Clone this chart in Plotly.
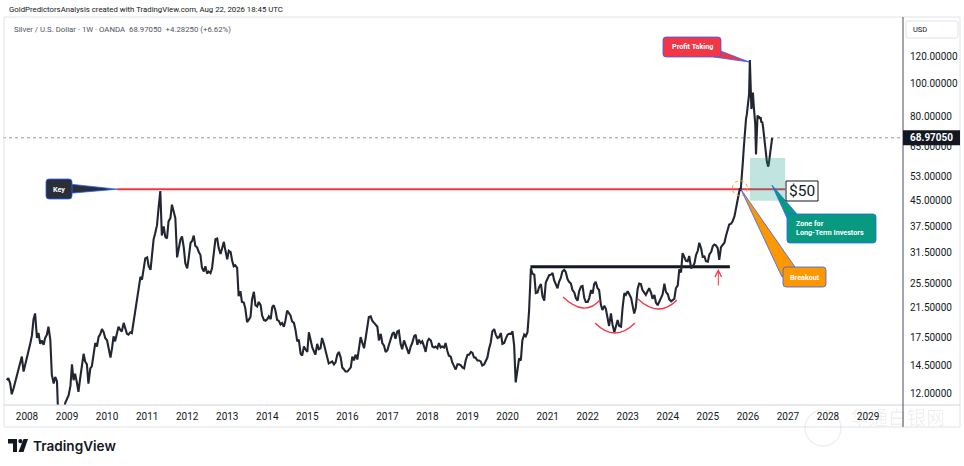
import numpy as np
import pandas as pd
import plotly.graph_objects as go

# ---------------- data (semi-monthly closes: 1st and 15th of each month) ----------------
silver_2007 = [13.1, 13.3, 12.8, 11.9, 12.4, 12.9, 13.6, 13.9, 14.8, 15.4, 13.9, 14.5]
silver_2008 = [15.2, 16.0, 16.9, 17.8, 19.9, 20.7, 17.5, 18.1, 16.8, 17.2, 16.7, 17.5,
               17.9, 18.9, 17.3, 13.6, 12.8, 13.4, 13.0, 9.7, 9.9, 9.4, 9.9, 11.2]
silver_2009 = [11.5, 11.8, 12.6, 14.6, 13.1, 13.7, 12.9, 12.1, 13.3, 14.5, 15.7, 14.9,
               14.6, 12.8, 14.2, 14.4, 15.8, 16.9, 16.5, 17.6, 18.0, 18.6, 18.2, 17.5]
silver_2010 = [17.2, 16.4, 15.3, 16.3, 17.7, 17.1, 17.9, 18.9, 18.5, 18.3, 19.4, 18.7,
               18.0, 17.9, 18.2, 18.1, 19.6, 20.9, 22.3, 24.2, 26.6, 26.1, 28.3, 30.2]
silver_2011 = [30.4, 28.6, 27.9, 30.5, 34.4, 35.8, 37.9, 42.6, 47.9, 35.3, 37.6, 35.0,
               34.6, 38.9, 39.8, 43.6, 41.5, 39.8, 30.4, 32.0, 34.4, 35.1, 32.5, 29.2]
silver_2012 = [28.2, 30.3, 33.6, 34.0, 35.3, 32.9, 32.5, 31.6, 30.9, 28.3, 27.6, 28.6,
               27.2, 27.6, 27.3, 28.2, 31.6, 34.4, 34.6, 32.4, 31.1, 32.6, 33.8, 31.9]
silver_2013 = [30.0, 31.8, 31.5, 29.7, 28.6, 28.8, 28.3, 23.3, 24.1, 22.4, 22.3, 21.4,
               19.5, 19.8, 20.2, 22.8, 24.0, 21.9, 21.7, 22.4, 21.9, 20.4, 19.8, 19.7]
silver_2014 = [19.9, 20.3, 19.9, 21.6, 21.9, 21.2, 19.8, 19.7, 19.2, 19.4, 18.9, 19.7,
               21.1, 20.8, 20.4, 19.6, 19.4, 18.5, 17.1, 17.3, 15.7, 15.5, 16.5, 16.2]
silver_2015 = [15.9, 18.2, 17.1, 16.4, 16.0, 15.6, 16.8, 16.2, 16.3, 17.5, 16.8, 16.1,
               15.6, 14.7, 14.8, 14.9, 14.6, 14.8, 15.6, 15.9, 15.3, 14.3, 14.1, 13.9]
silver_2016 = [13.9, 14.1, 14.3, 15.4, 15.0, 15.6, 15.1, 16.2, 17.6, 17.0, 16.3, 17.4,
               19.0, 20.2, 20.3, 19.7, 19.4, 19.1, 18.9, 17.2, 18.0, 16.9, 16.6, 15.9]
silver_2017 = [16.1, 16.7, 17.3, 18.0, 18.2, 17.4, 18.3, 18.4, 16.8, 16.2, 17.2, 16.7,
               16.1, 15.7, 16.5, 16.9, 17.7, 17.9, 16.7, 17.3, 16.9, 17.1, 16.5, 15.9]
silver_2018 = [17.1, 17.4, 17.2, 16.5, 16.4, 16.5, 16.3, 16.9, 16.4, 16.5, 16.4, 16.9,
               16.0, 15.5, 15.4, 14.8, 14.4, 14.1, 14.6, 14.6, 14.5, 14.3, 14.2, 15.0]
silver_2019 = [15.6, 15.6, 15.9, 15.8, 15.3, 15.3, 15.0, 15.0, 14.9, 14.5, 14.6, 15.0,
               15.3, 16.2, 17.0, 18.3, 18.6, 17.9, 17.5, 17.6, 18.1, 16.8, 16.9, 17.4]
silver_2020 = [17.9, 18.0, 18.0, 18.3, 16.6, 12.9, 14.4, 15.2, 15.0, 17.2, 17.9, 17.7,
               18.2, 21.0, 28.2, 27.2, 27.0, 23.8, 23.9, 24.8, 25.3, 23.3, 22.6, 25.6]
silver_2021 = [26.3, 26.9, 27.0, 27.3, 26.0, 25.4, 24.6, 25.7, 26.4, 27.6, 27.9, 27.5,
               26.2, 25.7, 25.4, 24.3, 23.9, 23.0, 22.6, 24.1, 24.9, 25.0, 23.0, 22.4]
silver_2022 = [22.4, 23.0, 24.3, 23.7, 25.3, 25.7, 24.6, 24.3, 22.0, 21.2, 21.8, 21.4,
               20.0, 19.0, 20.7, 19.2, 18.2, 19.1, 19.8, 19.0, 18.9, 21.5, 23.8, 23.5]
silver_2023 = [24.1, 23.6, 23.0, 21.8, 20.7, 21.5, 24.5, 25.4, 25.3, 24.3, 23.8, 23.5,
               24.1, 24.6, 23.9, 22.9, 23.5, 22.3, 21.9, 22.5, 23.0, 23.6, 25.4, 24.0]
silver_2024 = [23.6, 22.8, 22.5, 22.7, 22.9, 24.6, 25.1, 28.0, 27.4, 31.3, 30.4, 29.7,
               29.6, 30.7, 28.2, 28.5, 29.2, 30.9, 31.8, 33.6, 32.3, 30.5, 30.6, 29.6]
silver_2025 = [29.5, 31.0, 31.6, 32.8, 33.2, 33.0, 32.4, 29.9, 32.6, 33.0, 33.6, 35.2,
               36.6, 38.1, 38.3, 38.9, 40.3, 42.6]
# weekly closes from 2025-09-29
silver_weekly_2025_26 = [45.8, 47.2, 48.0, 48.8, 47.9, 50.5, 53.8, 58.9, 64.0, 69.5,
                         74.0, 78.5, 80.8, 86.0, 90.5, 93.0, 117.5, 99.0, 84.0, 88.0,
                         94.0, 86.0, 82.0, 76.0, 61.5, 77.5, 80.5, 79.0, 80.0, 78.5,
                         79.5, 76.5, 77.0, 75.0, 71.0, 68.0, 63.5, 61.0, 59.0, 57.5,
                         56.6, 58.5, 60.5, 63.5, 66.5, 68.9705]

price_ticks = [120, 100, 80, 65, 53, 45, 37.5, 31.5, 25.5, 21.5, 17.5, 14.5, 12]
year_ticks = list(range(2008, 2030))

key_level = 48.5
key_start, key_end = 2010.25, 2026.93
neck_level = 28.5
neck_start, neck_end = 2020.57, 2025.55
zone_low, zone_high = 44.8, 60.1
zone_start, zone_end = 2026.05, 2026.93
breakout_t, breakout_p = 2025.80, 48.8

# ---------------- series assembly ----------------
semi_monthly = (silver_2007 + silver_2008 + silver_2009 + silver_2010 + silver_2011 +
                silver_2012 + silver_2013 + silver_2014 + silver_2015 + silver_2016 +
                silver_2017 + silver_2018 + silver_2019 + silver_2020 + silver_2021 +
                silver_2022 + silver_2023 + silver_2024 + silver_2025)
sm_dates = pd.date_range("2007-07-01", periods=len(semi_monthly), freq="SMS")
wk_dates = pd.date_range("2025-09-29", periods=len(silver_weekly_2025_26), freq="7D")


def to_dec_year(idx):
    days = np.where(idx.is_leap_year, 366.0, 365.0)
    return idx.year.values + (idx.dayofyear.values - 1) / days


xs = np.concatenate([to_dec_year(sm_dates), to_dec_year(wk_dates)])
ys = np.array(semi_monthly + silver_weekly_2025_26)
last_price = silver_weekly_2025_26[-1]

# ---------------- geometry helpers ----------------
FW, FH = 964, 466
ML, MR, MT, MB = 3, 61, 17, 61
PW = FW - ML - MR
PH = FH - MT - MB
X_RANGE = [2007.401, 2029.873]
Y_RANGE = [1.0435, 2.1982]


def px(x):
    return (x - ML) / PW


def py(y):
    return 1 - (y - MT) / PH


def data_y_px(v):
    return MT + (Y_RANGE[1] - np.log10(v)) / (Y_RANGE[1] - Y_RANGE[0]) * PH


def data_x_px(t):
    return ML + (t - X_RANGE[0]) / (X_RANGE[1] - X_RANGE[0]) * PW


def P(x, y):
    return f"{px(x):.5f},{py(y):.5f}"


def rrect(x0, y0, x1, y1, r=3):
    return (f"M{P(x0 + r, y0)} L{P(x1 - r, y0)} Q{P(x1, y0)} {P(x1, y0 + r)} "
            f"L{P(x1, y1 - r)} Q{P(x1, y1)} {P(x1 - r, y1)} L{P(x0 + r, y1)} "
            f"Q{P(x0, y1)} {P(x0, y1 - r)} L{P(x0, y0 + r)} Q{P(x0, y0)} {P(x0 + r, y0)} Z")


def poly(pts):
    return "M" + " L".join(P(a, b) for a, b in pts) + " Z"


def pshape(path, fill=None, color=None, width=1, dash=None):
    line = dict(color=color or "rgba(0,0,0,0)", width=width if color else 0)
    if dash:
        line["dash"] = dash
    return dict(type="path", xref="paper", yref="paper", path=path,
                fillcolor=fill or "rgba(0,0,0,0)", line=line, layer="above")


def label(x, y, text, size, color, xanchor="center", **font_kw):
    return dict(x=px(x), y=py(y), xref="paper", yref="paper", text=text,
                showarrow=False, xanchor=xanchor, yanchor="middle", align="left",
                font=dict(size=size, color=color, **font_kw))


BLUE = "#2962ff"
DARK = "#131722"
shapes = []
annotations = []

# chart frame and separators
shapes.append(pshape(f"M{P(4, 17)} L{P(960, 17)} L{P(960, 427)} L{P(4, 427)} Z",
                     color="#e0e3eb", width=1))
shapes.append(pshape(f"M{P(4, 405)} L{P(960, 405)}", color="#d1d4dc", width=1))
shapes.append(pshape(f"M{P(903, 17)} L{P(903, 427)}", color="#4a4e59", width=1))

# last price dotted line
shapes.append(dict(type="line", xref="paper", yref="y", x0=0, x1=1,
                   y0=last_price, y1=last_price,
                   line=dict(color="#9598a1", width=1, dash="dot"), layer="below"))
# key resistance line
shapes.append(dict(type="line", xref="x", yref="y", x0=key_start, x1=key_end,
                   y0=key_level, y1=key_level,
                   line=dict(color="#f23645", width=2), layer="below"))
# neckline
shapes.append(dict(type="line", xref="x", yref="y", x0=neck_start, x1=neck_end,
                   y0=neck_level, y1=neck_level,
                   line=dict(color=DARK, width=3), layer="below"))
# zone for long-term investors
shapes.append(dict(type="rect", xref="x", yref="y", x0=zone_start, x1=zone_end,
                   y0=zone_low, y1=zone_high, fillcolor="rgba(8,153,129,0.26)",
                   line=dict(width=0), layer="above"))

# inverse head & shoulders arcs (pixel-space quadratic curves)
for (x0, y0), (xb, yb), (x1, y1) in [((563, 297), (583, 308), (600, 300)),
                                      ((595, 323), (615, 333), (635, 323)),
                                      ((638, 299), (658, 309), (677, 300))]:
    cy = 2 * yb - (y0 + y1) / 2
    cx = 2 * xb - (x0 + x1) / 2
    shapes.append(pshape(f"M{P(x0, y0)} Q{P(cx, cy)} {P(x1, y1)}",
                         color="#f23645", width=1.3))

# breakout circle
bx, by = data_x_px(breakout_t), data_y_px(breakout_p)
shapes.append(dict(type="circle", xref="paper", yref="paper",
                   x0=px(bx - 7.5), x1=px(bx + 7.5), y0=py(by + 7.5), y1=py(by - 7.5),
                   line=dict(color="#ff9800", width=1, dash="dot"), layer="above"))

# peak position for profit taking callout
peak_i = int(np.argmax(ys))
pk_x, pk_y = data_x_px(xs[peak_i]), data_y_px(ys[peak_i])
key_tip_x, key_y = data_x_px(key_start), data_y_px(key_level)
zone_tip_x, zone_tip_y = 772, key_y - 4


def callout(box, tail, fill, text, align="center", tx=None):
    x0, y0, x1, y1 = box
    shapes.append(pshape(poly(tail), fill=fill, color=BLUE, width=0.8))
    shapes.append(pshape(rrect(x0, y0, x1, y1, 3), fill=fill, color=BLUE, width=0.8))
    if align == "center":
        annotations.append(label((x0 + x1) / 2, (y0 + y1) / 2, text, 7.2, "white",
                                 weight="bold"))
    else:
        annotations.append(label(tx, (y0 + y1) / 2, text, 7.2, "white",
                                 xanchor="left", weight="bold"))


callout((46, 179, 72, 199), [(71, key_y - 5), (key_tip_x, key_y), (71, key_y + 4)],
        "#2a2e39", "Key")
callout((663, 37, 721, 57), [(718, 50), (pk_x - 0.5, pk_y + 2), (714, 57)],
        "#f23645", "Profit Taking")
callout((783, 267, 826, 287), [(782, 277), (bx + 1, by + 1), (795, 267)],
        "#ff9800", "Breakout")
callout((787, 214, 876, 243), [(787, 218), (zone_tip_x, zone_tip_y), (797, 214)],
        "#089981", "Zone for<br>Long-Term Investors", align="left", tx=794)

# $50 label
shapes.append(pshape(poly([(786, 181), (818, 181), (818, 201), (786, 201)]),
                     fill="white", color=DARK, width=1))
annotations.append(label(802, 191.5, "$50", 15.5, DARK))

# red up arrow below neckline end
annotations.append(dict(x=px(718.3), y=py(269), xref="paper", yref="paper", text="",
                        showarrow=True, ax=0, ay=18, arrowhead=5, arrowsize=1.3,
                        arrowwidth=1, arrowcolor="#f23645"))

# header texts
annotations.append(label(7, 9.5,
                         "GoldPredictorsAnalysis created with TradingView.com, Aug 22, 2026 18:45 UTC",
                         7.8, DARK, xanchor="left"))
annotations.append(label(12, 29,
                         "Silver / U.S. Dollar · 1W · OANDA\u00a0\u00a068.97050\u00a0\u00a0+4.28250 (+6.62%)",
                         7.8, "#50535e", xanchor="left"))

# USD box
shapes.append(pshape(rrect(906, 21, 958, 38, 2), fill="white", color="#e0e3eb", width=1))
annotations.append(label(911, 29.5, "USD", 7.5, DARK, xanchor="left"))

# last price label on the axis
lp_y = data_y_px(last_price)
shapes.append(pshape(poly([(903, lp_y - 7.5), (960, lp_y - 7.5), (960, lp_y + 7.5),
                           (903, lp_y + 7.5)]), fill=DARK))
annotations.append(label(931.5, lp_y, f"{last_price:.5f}", 10, "white", weight="bold"))

# TradingView logo
shapes.append(pshape(poly([(8, 439), (17, 439), (17, 452), (13, 452), (13, 443.5), (8, 443.5)]),
                     fill=DARK))
shapes.append(dict(type="circle", xref="paper", yref="paper", x0=px(18.3), x1=px(22.5),
                   y0=py(443.3), y1=py(439.1), fillcolor=DARK, line=dict(width=0),
                   layer="above"))
shapes.append(pshape(poly([(18.5, 452), (23.5, 452), (28, 439), (23.5, 439)]), fill=DARK))
annotations.append(label(31, 445.5, "TradingView", 13.6, DARK, xanchor="left",
                         family="Inter", weight=600))

# faint watermark
shapes.append(dict(type="circle", xref="paper", yref="paper", x0=px(805), x1=px(841),
                   y0=py(446), y1=py(410), line=dict(color="rgba(0,0,0,0.06)", width=1.5),
                   layer="above"))
annotations.append(label(897, 417, "华通白银网", 19, "rgba(0,0,0,0.07)",
                         family="Noto Sans CJK SC"))

# ---------------- figure ----------------
fig = go.Figure()
fig.add_trace(go.Scatter(x=xs, y=ys, mode="lines",
                         line=dict(color="#222631", width=2.1),
                         hoverinfo="skip", showlegend=False))

fig.update_layout(
    width=FW, height=FH,
    margin=dict(l=ML, r=MR, t=MT, b=MB),
    paper_bgcolor="white", plot_bgcolor="white",
    font=dict(family="Roboto, Open Sans, sans-serif", color=DARK),
    showlegend=False,
    shapes=shapes, annotations=annotations,
    xaxis=dict(range=X_RANGE, tickvals=year_ticks, ticktext=[str(y) for y in year_ticks],
               showgrid=False, zeroline=False, showline=False, ticks="",
               tickfont=dict(size=10, color=DARK), ticklabelstandoff=4,
               fixedrange=True),
    yaxis=dict(type="log", side="right", range=Y_RANGE, tickvals=price_ticks,
               ticktext=[f"{v:.5f}" for v in price_ticks],
               showgrid=False, zeroline=False, showline=False, ticks="",
               tickfont=dict(size=10, color=DARK), ticklabelstandoff=6,
               fixedrange=True),
)

fig.write_html("out.html", config={"displayModeBar": False},
               post_script="document.body.style.margin='0px';document.body.style.overflow='hidden';")
